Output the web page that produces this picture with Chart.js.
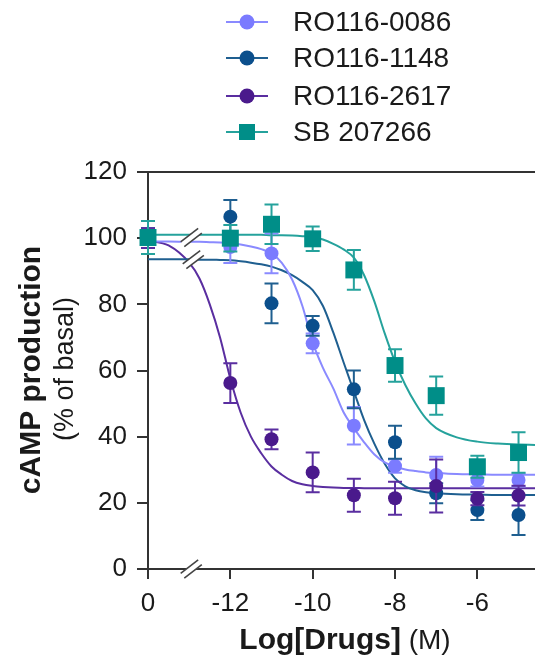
<!DOCTYPE html>
<html>
<head>
<meta charset="utf-8">
<script src="https://cdn.jsdelivr.net/npm/chart.js@4.4.1/dist/chart.umd.min.js"></script>
<style>
  html, body { margin: 0; padding: 0; background: #fff; }
  #doseResponse { display: block; }
</style>
</head>
<body>
<canvas id="doseResponse" width="535" height="664"></canvas>
<script>
'use strict';

// -14 on the log axis stands for the vehicle (0) point left of the axis break
const compounds = ['RO116-0086', 'RO116-1148', 'RO116-2617', 'SB 207266'];
const doseLog = [-14, -12, -11, -10, -9, -8, -7, -6, -5];

const mean0086 = [100, 97.3, 95.4, 68.2, 43.3, 31.1, 28.4, 26.9, 26.9];
const sem0086 = [3, 4.8, 6, 3, 5.7, 2, 5.5, 2, 2];
const mean1148 = [100, 106.5, 80.3, 73.5, 54.3, 38.3, 22.9, 17.8, 16.3];
const sem1148 = [3, 5, 6, 3, 5.7, 5, 3, 3, 6];
const mean2617 = [100, 56.2, 39.2, 29.2, 22.3, 21.4, 25.1, 21.3, 22.2];
const sem2617 = [3, 6, 3, 6, 5, 5, 8, 2, 3];
const meanSB = [100.2, 100, 104.2, 99.8, 90.4, 61.5, 52.4, 30.9, 35.2];
const semSB = [5, 4, 6, 3.7, 6, 4.9, 5.8, 3.3, 6.1];

// fitted curves
const fitLog = [-14, -13.5, -13, -12.75, -12.5, -12.25, -12, -11.75, -11.5, -11.25, -11,
  -10.75, -10.5, -10.25, -10, -9.75, -9.5, -9.25, -9, -8.75, -8.5, -8.25, -8,
  -7.75, -7.5, -7.25, -7, -6.5, -6, -5.5, -5, -4.6];
const fit0086 = [99, 99, 98.9, 98.9, 98.8, 98.7, 98.5, 98.1, 97.5, 96.7, 95.4,
  92.5, 87.5, 79.5, 68.5, 60.8, 54.6, 47.4, 42.6, 38.3, 34.6, 32.2, 30.9,
  30.1, 29.6, 29.2, 29.0, 28.7, 28.6, 28.5, 28.5, 28.5];
const fit1148 = [93.6, 93.6, 93.6, 93.5, 93.5, 93.4, 93.3, 93.0, 92.6, 92.1, 91.4,
  90.3, 88.8, 86.8, 84.3, 79.5, 71.5, 62.5, 53.7, 45.0, 37.8, 31.8, 27.4,
  25.0, 23.8, 23.2, 22.9, 22.6, 22.5, 22.4, 22.4, 22.4];
const fit2617 = [99.3, 97.8, 92.6, 87.8, 80.0, 70.0, 57.5, 47.3, 40.0, 35.0, 31.0,
  28.5, 26.6, 25.6, 25.1, 24.8, 24.6, 24.5, 24.5, 24.4, 24.4, 24.4, 24.4,
  24.4, 24.4, 24.4, 24.4, 24.4, 24.4, 24.4, 24.4, 24.4];
const fitSB = [101, 101, 101, 101, 101, 101, 101, 101, 101, 101, 100.9,
  100.9, 100.8, 100.6, 100.3, 99.6, 98.3, 96.6, 94.1, 88.8, 80.8, 71.2, 62.6,
  55.6, 50.0, 45.5, 42.6, 39.8, 38.5, 37.9, 37.6, 37.5];

const xTicks = [-14, -12, -10, -8, -6];
const yTicks = [0, 20, 40, 60, 80, 100, 120];

const pointColors = ['#7b7bff', '#0b4f8c', '#4a1a8c', '#008e88'];
const lineColors = ['#8a8aff', '#1f5f90', '#5a2ea0', '#25a29c'];
const markers = ['circle', 'circle', 'circle', 'rect'];
const means = [mean0086, mean1148, mean2617, meanSB];
const sems = [sem0086, sem1148, sem2617, semSB];
const fits = [fit0086, fit1148, fit2617, fitSB];
// last one drawn on top
const drawOrder = [4, 3, 2, 1];

const FONT = '"Liberation Sans", Arial, Helvetica, sans-serif';
const INK = '#1a1a1a';

Chart.defaults.font.family = FONT;
Chart.defaults.color = INK;

function markerRadius(style) {
  return style === 'rect' ? 12 : 7;
}

const datasets = [];
compounds.forEach((name, i) => {
  datasets.push({
    label: name,
    data: doseLog.map((x, k) => ({ x, y: means[i][k] })),
    errors: sems[i],
    showLine: false,
    pointStyle: markers[i],
    pointRadius: markerRadius(markers[i]),
    pointHoverRadius: markerRadius(markers[i]),
    pointBackgroundColor: pointColors[i],
    pointBorderColor: pointColors[i],
    pointBorderWidth: 0,
    errorColor: lineColors[i],
    order: drawOrder[i],
    clip: false
  });
});
compounds.forEach((name, i) => {
  datasets.push({
    label: name + ' fit',
    data: fitLog.map((x, k) => ({ x, y: fits[i][k] })),
    showLine: true,
    pointRadius: 0,
    borderColor: lineColors[i],
    borderWidth: 2,
    cubicInterpolationMode: 'monotone',
    fill: false,
    order: 10,
    clip: false
  });
});

const errorBars = {
  id: 'errorBars',
  beforeDatasetDraw(chart, args) {
    const ds = chart.data.datasets[args.index];
    if (!ds.errors) {
      return;
    }
    const ctx = chart.ctx;
    const yScale = chart.scales.y;
    ctx.save();
    ctx.strokeStyle = ds.errorColor;
    ctx.lineWidth = 2;
    args.meta.data.forEach((pt, k) => {
      const v = ds.data[k].y;
      const e = ds.errors[k];
      const top = yScale.getPixelForValue(v + e);
      const bottom = yScale.getPixelForValue(v - e);
      ctx.beginPath();
      ctx.moveTo(pt.x, top);
      ctx.lineTo(pt.x, bottom);
      ctx.moveTo(pt.x - 7, top);
      ctx.lineTo(pt.x + 7, top);
      ctx.moveTo(pt.x - 7, bottom);
      ctx.lineTo(pt.x + 7, bottom);
      ctx.stroke();
    });
    ctx.restore();
  }
};

function drawBreak(ctx, cx, cy) {
  const ang = -0.65;
  const dx = Math.cos(ang) * 11;
  const dy = Math.sin(ang) * 11;
  const nx = -Math.sin(ang) * 3;
  const ny = Math.cos(ang) * 3;
  ctx.save();
  ctx.lineCap = 'butt';
  ctx.strokeStyle = '#fff';
  ctx.lineWidth = 6;
  ctx.beginPath();
  ctx.moveTo(cx - dx, cy - dy);
  ctx.lineTo(cx + dx, cy + dy);
  ctx.stroke();
  ctx.strokeStyle = '#444';
  ctx.lineWidth = 1.6;
  [-1, 1].forEach(s => {
    ctx.beginPath();
    ctx.moveTo(cx - dx + s * nx, cy - dy + s * ny);
    ctx.lineTo(cx + dx + s * nx, cy + dy + s * ny);
    ctx.stroke();
  });
  ctx.restore();
}

const decorations = {
  id: 'decorations',
  afterDatasetsDraw(chart) {
    const { ctx, chartArea, scales } = chart;
    const { x, y } = scales;

    // top frame line
    ctx.save();
    ctx.strokeStyle = '#333';
    ctx.lineWidth = 2;
    ctx.beginPath();
    ctx.moveTo(chartArea.left, chartArea.top);
    ctx.lineTo(chartArea.right, chartArea.top);
    ctx.stroke();
    ctx.restore();

    // axis breaks
    drawBreak(ctx, x.getPixelForValue(-12.95), y.getPixelForValue(0));
    drawBreak(ctx, x.getPixelForValue(-12.95), y.getPixelForValue(100.2));
    drawBreak(ctx, x.getPixelForValue(-12.9), y.getPixelForValue(93.5));
  },
  afterDraw(chart) {
    const ctx = chart.ctx;
    ctx.save();
    ctx.fillStyle = INK;

    // legend
    ctx.font = `28px ${FONT}`;
    ctx.textBaseline = 'middle';
    ctx.textAlign = 'left';
    const rowY = [22, 58, 96, 132];
    compounds.forEach((name, i) => {
      const cy = rowY[i];
      ctx.strokeStyle = lineColors[i];
      ctx.lineWidth = 2;
      ctx.beginPath();
      ctx.moveTo(226, cy);
      ctx.lineTo(268, cy);
      ctx.stroke();
      ctx.fillStyle = pointColors[i];
      if (markers[i] === 'rect') {
        ctx.fillRect(247 - 8, cy - 8, 16, 16);
      } else {
        ctx.beginPath();
        ctx.arc(247, cy, 7.5, 0, Math.PI * 2);
        ctx.fill();
      }
      ctx.fillStyle = INK;
      ctx.fillText(name, 293, cy + 1);
    });

    // x title: bold part + regular unit
    ctx.textBaseline = 'alphabetic';
    const boldFont = `bold 30px ${FONT}`;
    const regFont = `28px ${FONT}`;
    ctx.font = boldFont;
    const wBold = ctx.measureText('Log[Drugs]').width;
    ctx.font = regFont;
    const wReg = ctx.measureText(' (M)').width;
    const startX = 345 - (wBold + wReg) / 2;
    ctx.font = boldFont;
    ctx.fillText('Log[Drugs]', startX, 649);
    ctx.font = regFont;
    ctx.fillText(' (M)', startX + wBold, 649);

    // y title, two lines rotated
    ctx.textAlign = 'center';
    ctx.save();
    ctx.translate(40, 370);
    ctx.rotate(-Math.PI / 2);
    ctx.font = `bold 30px ${FONT}`;
    ctx.fillText('cAMP production', 0, 0);
    ctx.restore();
    ctx.save();
    ctx.translate(73, 369);
    ctx.rotate(-Math.PI / 2);
    ctx.font = `27px ${FONT}`;
    ctx.fillText('(% of basal)', 0, 0);
    ctx.restore();

    ctx.restore();
  }
};

new Chart(document.getElementById('doseResponse').getContext('2d'), {
  type: 'scatter',
  data: { datasets },
  options: {
    responsive: false,
    animation: false,
    events: [],
    layout: {
      autoPadding: false,
      padding: { top: 172, right: 0, left: 0, bottom: 0 }
    },
    plugins: {
      legend: { display: false },
      tooltip: { enabled: false }
    },
    scales: {
      x: {
        type: 'linear',
        min: -14,
        max: -4.6,
        afterBuildTicks: scale => {
          scale.ticks = xTicks.map(v => ({ value: v }));
        },
        afterFit: scale => {
          scale.height = 95;
          scale.paddingLeft = 0;
          scale.paddingRight = 0;
        },
        ticks: {
          font: { size: 26 },
          color: INK,
          padding: 9,
          maxRotation: 0,
          callback: value => (value === -14 ? '0' : String(value))
        },
        grid: {
          display: true,
          drawOnChartArea: false,
          drawTicks: true,
          tickLength: 10,
          color: '#333',
          lineWidth: 2
        },
        border: { display: true, color: '#333', width: 2 }
      },
      y: {
        type: 'linear',
        min: 0,
        max: 120,
        afterBuildTicks: scale => {
          scale.ticks = yTicks.map(v => ({ value: v }));
        },
        afterFit: scale => {
          scale.width = 148;
        },
        ticks: {
          font: { size: 26 },
          color: INK,
          padding: 10
        },
        grid: {
          display: true,
          drawOnChartArea: false,
          drawTicks: true,
          tickLength: 11,
          color: '#333',
          lineWidth: 2
        },
        border: { display: true, color: '#333', width: 2 }
      }
    }
  },
  plugins: [errorBars, decorations]
});
</script>
</body>
</html>
